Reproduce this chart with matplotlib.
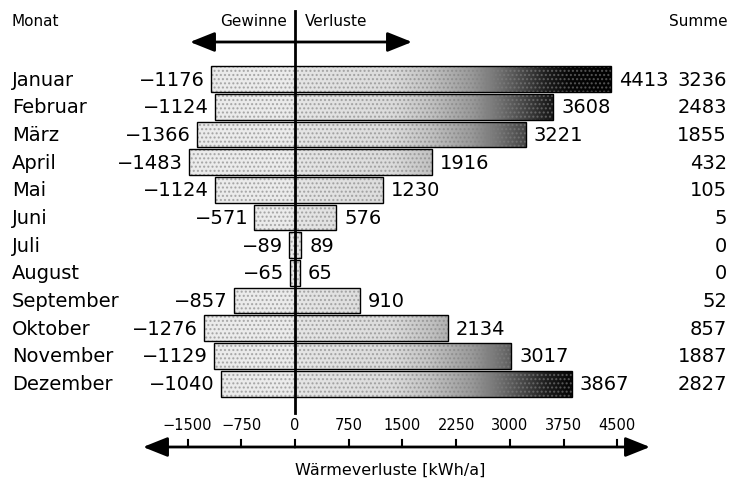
import numpy as np
import matplotlib.pyplot as plt
from matplotlib.patches import Rectangle
from matplotlib.colors import LinearSegmentedColormap

monate = ["Januar", "Februar", "März", "April", "Mai", "Juni", "Juli",
          "August", "September", "Oktober", "November", "Dezember"]
gewinne = [-1176, -1124, -1366, -1483, -1124, -571, -89, -65, -857, -1276, -1129, -1040]
verluste = [4413, 3608, 3221, 1916, 1230, 576, 89, 65, 910, 2134, 3017, 3867]
summe = [3236, 2483, 1855, 432, 105, 5, 0, 0, 52, 857, 1887, 2827]
ticks = [-1500, -750, 0, 750, 1500, 2250, 3000, 3750, 4500]

# grey ramp over the loss axis (light stipple -> black)
ramp = LinearSegmentedColormap.from_list("ramp", [
    (0.0, (0.90, 0.90, 0.90)), (0.30, (0.86, 0.86, 0.86)), (0.42, (0.76, 0.76, 0.76)),
    (0.55, (0.60, 0.60, 0.60)), (0.63, (0.45, 0.45, 0.45)), (0.71, (0.28, 0.28, 0.28)),
    (0.78, (0.12, 0.12, 0.12)), (0.85, (0.03, 0.03, 0.03)), (1.0, (0.0, 0.0, 0.0))])
grad_lo, grad_hi = 0, 4500

fig = plt.figure(figsize=(7.3, 4.81), dpi=100)
ax = fig.add_axes([0, 0, 1, 1])
px = 0.0716  # pixels per kWh/a
ax.set_xlim(-295 / px, (730 - 295) / px)
ax.set_ylim((481 - 80) / 27.7, -80 / 27.7)
ax.axis("off")

def y_at(pix):
    return (pix - 80) / 27.7

fs = 14
h = 0.93
grad = np.linspace(0, 1, 400).reshape(1, -1)
for i, (m, g, v, s) in enumerate(zip(monate, gewinne, verluste, summe)):
    for lo, hi in [(g, 0), (0, v)]:
        rect = Rectangle((lo, i - h / 2), hi - lo, h, facecolor="none", edgecolor="none")
        ax.add_patch(rect)
        if hi > 0:
            img = ax.imshow(grad, cmap=ramp, aspect="auto", extent=[grad_lo, grad_hi, i + h / 2, i - h / 2],
                            vmin=0, vmax=1, zorder=1, interpolation="bilinear")
            img.set_clip_path(rect)
        else:
            ax.add_patch(Rectangle((lo, i - h / 2), hi - lo, h, facecolor=(0.92, 0.92, 0.92),
                                   edgecolor="none", zorder=1))
        ax.add_patch(Rectangle((lo, i - h / 2), hi - lo, h, facecolor="none",
                               edgecolor=(0.5, 0.5, 0.5, 0.6), hatch="....", lw=0, zorder=2))
    ax.add_patch(Rectangle((g, i - h / 2), v - g, h, facecolor="none",
                           edgecolor="black", lw=1.0, zorder=3))
    ax.text(12 / px - 295 / px, i, m, ha="left", va="center", fontsize=fs)
    ax.text(g - 6 / px, i, f"\u2212{abs(g)}", ha="right", va="center", fontsize=fs)
    ax.text(v + 8 / px, i, str(v), ha="left", va="center", fontsize=fs)
    ax.text((727 - 295) / px, i, str(s), ha="right", va="center", fontsize=fs)

# zero line
ax.plot([0, 0], [y_at(12), y_at(414)], color="black", lw=2, zorder=4)

# header
hy = y_at(22)
ax.text((12 - 295) / px, hy, "Monat", ha="left", va="center", fontsize=11)
ax.text((728 - 295) / px, hy, "Summe", ha="right", va="center", fontsize=11)
ax.text(-8 / px, hy, "Gewinne", ha="right", va="center", fontsize=11)
ax.text(10 / px, hy, "Verluste", ha="left", va="center", fontsize=11)
arrow = dict(arrowstyle="-|>,head_length=1.5,head_width=0.6", color="black", lw=2,
             shrinkA=0, shrinkB=0)
ay = y_at(43)
for x_end in [(190 - 295) / px, (412 - 295) / px]:
    ax.annotate("", xy=(x_end, ay), xytext=(0, ay), arrowprops=arrow)

# bottom axis
by = y_at(448)
for x_end in [(143 - 295) / px, (650 - 295) / px]:
    ax.annotate("", xy=(x_end, by), xytext=(0, by), arrowprops=arrow)
for t in ticks:
    ax.plot([t, t], [by, y_at(441)], color="black", lw=1.5)
    lab = f"\u2212{abs(t)}" if t < 0 else str(t)
    ax.text(t, y_at(425), lab, ha="center", va="center", fontsize=10.5)
ax.text((390 - 295) / px, y_at(470), "Wärmeverluste [kWh/a]", ha="center", va="center", fontsize=11.5)

fig.savefig("out.png", dpi=100)
